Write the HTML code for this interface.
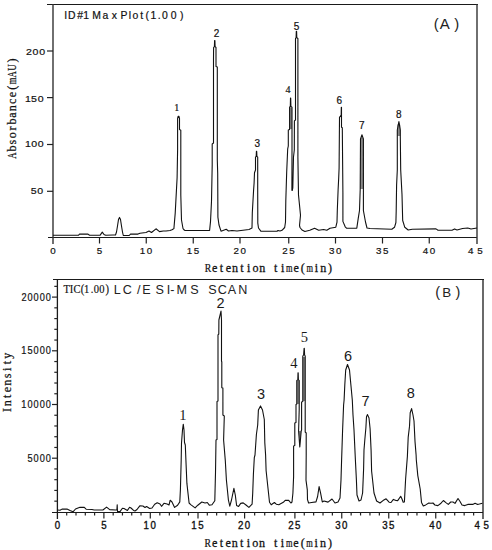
<!DOCTYPE html>
<html><head><meta charset="utf-8"><style>
html,body{margin:0;padding:0;background:#fff;}
body{width:492px;height:550px;overflow:hidden;}
svg{display:block;}
</style></head><body>
<svg width="492" height="550" viewBox="0 0 492 550">
<rect width="492" height="550" fill="#fff"/>
<g stroke="#1a1a1a" stroke-width="1" fill="none" shape-rendering="crispEdges">
<path d="M47 4.5H477.5"/>
<path d="M48 237.5H477"/>
</g>
<g stroke="#333" stroke-width="1.4" fill="none">
<path d="M53 4V244"/>
<path d="M477 4V244"/>
</g>
<g stroke="#222" stroke-width="1.2" fill="none">
<path d="M99.5 237.5V243.5"/>
<path d="M146.25 237.5V243.5"/>
<path d="M193.25 237.5V243.5"/>
<path d="M240 237.5V243.5"/>
<path d="M288.75 237.5V243.5"/>
<path d="M335.5 237.5V243.5"/>
<path d="M382.5 237.5V243.5"/>
<path d="M429.25 237.5V243.5"/>
<path d="M47 51.0H53"/>
<path d="M47 97.6H53"/>
<path d="M47 144.5H53"/>
<path d="M47 191.3H53"/>
</g>
<g stroke="#1a1a1a" stroke-width="1" fill="none" shape-rendering="crispEdges">
<path d="M53 279.5H483.5"/>
<path d="M52 512.5H483"/>
</g>
<g stroke="#1a1a1a" stroke-width="1.3" fill="none">
<path d="M57.4 279V519"/>
<path d="M483 279V519"/>
</g>
<g stroke="#222" stroke-width="1.2" fill="none">
<path d="M66.70 512.5V515.5"/>
<path d="M76.00 512.5V515.5"/>
<path d="M85.30 512.5V515.5"/>
<path d="M94.60 512.5V515.5"/>
<path d="M103.9 512.5V518.5"/>
<path d="M113.18 512.5V515.5"/>
<path d="M122.46 512.5V515.5"/>
<path d="M131.74 512.5V515.5"/>
<path d="M141.02 512.5V515.5"/>
<path d="M150.3 512.5V518.5"/>
<path d="M159.84 512.5V515.5"/>
<path d="M169.38 512.5V515.5"/>
<path d="M178.92 512.5V515.5"/>
<path d="M188.46 512.5V515.5"/>
<path d="M198 512.5V518.5"/>
<path d="M207.32 512.5V515.5"/>
<path d="M216.64 512.5V515.5"/>
<path d="M225.96 512.5V515.5"/>
<path d="M235.28 512.5V515.5"/>
<path d="M244.6 512.5V518.5"/>
<path d="M254.66 512.5V515.5"/>
<path d="M264.72 512.5V515.5"/>
<path d="M274.78 512.5V515.5"/>
<path d="M284.84 512.5V515.5"/>
<path d="M294.9 512.5V518.5"/>
<path d="M304.27 512.5V515.5"/>
<path d="M313.64 512.5V515.5"/>
<path d="M323.01 512.5V515.5"/>
<path d="M332.38 512.5V515.5"/>
<path d="M341.75 512.5V518.5"/>
<path d="M351.15 512.5V515.5"/>
<path d="M360.55 512.5V515.5"/>
<path d="M369.95 512.5V515.5"/>
<path d="M379.35 512.5V515.5"/>
<path d="M388.75 512.5V518.5"/>
<path d="M398.15 512.5V515.5"/>
<path d="M407.55 512.5V515.5"/>
<path d="M416.95 512.5V515.5"/>
<path d="M426.35 512.5V515.5"/>
<path d="M435.75 512.5V518.5"/>
<path d="M445.22 512.5V515.5"/>
<path d="M454.69 512.5V515.5"/>
<path d="M464.16 512.5V515.5"/>
<path d="M473.63 512.5V515.5"/>
<path d="M54.3 501.16H57.5"/>
<path d="M54.3 490.42H57.5"/>
<path d="M54.3 479.68H57.5"/>
<path d="M54.3 468.94H57.5"/>
<path d="M52 458.20H57.5"/>
<path d="M54.3 447.46H57.5"/>
<path d="M54.3 436.72H57.5"/>
<path d="M54.3 425.98H57.5"/>
<path d="M54.3 415.24H57.5"/>
<path d="M52 404.50H57.5"/>
<path d="M54.3 393.76H57.5"/>
<path d="M54.3 383.02H57.5"/>
<path d="M54.3 372.28H57.5"/>
<path d="M54.3 361.54H57.5"/>
<path d="M52 350.80H57.5"/>
<path d="M54.3 340.06H57.5"/>
<path d="M54.3 329.32H57.5"/>
<path d="M54.3 318.58H57.5"/>
<path d="M54.3 307.84H57.5"/>
<path d="M52 297.10H57.5"/>
<path d="M54.3 286.36H57.5"/>
</g>
<g fill="#8a8a8a" stroke="none">
<polygon points="360.5,139 362,136.5 363.4,139 363.4,189 360.2,189"/>
<polygon points="397.3,125 398.9,122.5 400.3,125 400.3,136 397.3,136"/>
<polygon points="289.6,108 290.7,107 292,108 292,129 289.6,129"/>
<polygon points="296.8,381 299.2,381 299.2,404 296.8,404"/>
<polygon points="298.6,431 301.2,431 299.8,447"/>
<polygon points="302.8,357 305.2,357 305.2,401 302.8,401"/>
</g>
<polyline fill="none" stroke="#111" stroke-width="1.1" stroke-linejoin="round" points="53,235.3 78.4,235.3 79.5,234.1 88,234.1 89.5,235.3 100,235.3 102.3,232.2 104,234.5 105.7,235.3 113,235 115.5,235 116.5,232 117.5,226 118.5,219.5 119.5,217.4 120.5,219.5 121.5,226 122.5,232 123.3,235.5 129.2,235.5 130.5,234.1 138,234.1 140,233.2 146,232.5 149,231 151.5,232.5 156,228.8 159.5,231.6 163.3,231 166,231 170,230.5 172,229.8 173.9,228.6 175.2,213.4 177.1,177.7 177.6,150 177.6,118.5 178.2,116.2 178.9,116.2 179.5,118.5 179.5,129.6 180.8,130.2 180.8,165 180.8,194.9 181.5,220 183,228.5 184,229.8 185,230.5 209.6,230.5 210.5,221.6 211.5,201.3 212.2,165 212.2,144 213.5,143 213.5,60 213.6,47.5 214.4,46.6 214.6,40.5 214.9,40.5 215.1,46.6 216,47.5 216,66.4 217.3,67 217.3,160 217.7,173.3 217.9,217.2 219,225 221,231.2 223,230.5 226.2,229.3 228.5,231 232,230.5 237,231 245,230 249,229.5 252,228 252.3,213 253.6,190 254.1,183 254.5,172.7 255.5,170 255.5,157.2 256.2,156.4 256.4,151.4 256.7,151.4 256.9,156.4 257.7,157.2 257.7,190 257.8,223.1 258.5,228 261,231.3 277,231.3 278,230.5 280,231 282,230.3 284.7,227.5 285.5,222 285.8,201 286.7,171.7 287.7,148.8 288.3,146 288.3,130 289.6,129.5 289.6,107.2 290.3,106.4 290.5,98.1 290.7,98.1 290.9,106.4 292,107.2 292,150 291.9,190.2 292.3,190.5 292.8,188 293.5,157 294.3,150 294.4,121 295.5,119.9 295.5,38.5 296.1,37.7 296.3,31.3 296.6,31.3 296.8,37.7 297.9,38.5 297.9,157.7 298.5,195 299.5,205 300.5,215.3 299.5,225.5 300,227.5 302,230 304.9,231.5 309.8,230.3 314.6,228.3 318.7,230.3 323.6,229.5 326.8,230.3 330,228.3 335.8,227.2 337,222.2 337.3,210.5 338.1,190 338.7,178 339.1,168 339.5,117.3 341.2,115 341.3,107.3 341.5,107.3 341.5,127.3 342.3,127.8 342.9,192.7 342.9,221.4 345.2,226.8 346.5,228.2 356.8,228.2 358.2,218.6 359.5,210.5 360.2,189.3 360.5,139 362,134.8 363.4,139 363.4,210.5 365.5,222 367,228 370,228.5 391.8,229.3 394.5,227.3 395.9,222.5 396.2,210.9 396.6,185 397.3,170 397.3,130 398.9,121.5 400.3,130 400.3,136 400.7,170 402,194.5 402.7,220.5 404.8,227.3 408.2,230 412.3,229.3 436,228.9 438,230.2 452,230.2 454.6,228.9 457,230 462.6,228.5 467.8,228 471,229 477,228"/>
<polyline fill="none" stroke="#111" stroke-width="1.1" stroke-linejoin="round" points="57.5,510 60,510.3 62,509.1 67,509.1 70,510.5 73,511.8 75.5,509 78,508 80,507.3 84.3,507.4 86.1,509.2 92,509.5 94.2,510 102.9,510 106.6,507.1 109.7,509.6 115.3,510 116.9,510 117.2,504.8 117.5,511.6 120,511.6 122.4,508.3 124,508.5 127.4,510.4 129.6,507.3 131,508 133.6,510.4 135,511 137,509.5 139.8,505.8 142.9,506 145,507.5 146.6,506.5 149.7,508.5 152,508 154.7,504.2 157.2,502.7 160,504 161.5,506.3 164,503.3 167.1,504 169,505 170.2,500.2 172,502 174.6,507.4 177.6,505.2 179.8,501.9 180.4,489.9 181.2,459.9 181.5,443 182.5,430 183.3,424.2 184,430 184.5,442.5 185.3,445 186.1,464.8 186.9,483.4 189.1,503 190.7,504.6 195.1,507.9 197.8,505.2 201.8,502 205,503 207.3,502.5 209.3,505.2 212,504.8 214.8,500.7 215.5,472.7 216,440 217,439.5 217,401.4 218,401 218,334.8 218.8,334 218.9,320 221,311.1 221.5,320 221.5,361 221.8,362 221.8,387.7 222.9,388 222.9,415 224.3,416 223.6,440 225.3,460.5 226.4,480 228.4,500 229.8,506.1 231.5,500 233.9,488.4 235.3,495 236.6,505.5 238.6,506.4 240.7,503.4 243.2,502.9 246,505 248.9,507.4 252.1,504.2 252.7,493.4 253.4,474.3 254.3,457.7 255,455 256.4,434.5 257.7,425 258.4,410 260.5,405.9 262.5,410 264.3,419.5 264.8,442.7 265.6,455 266.1,470.5 268,488.3 269.5,502.3 271.2,504.8 274.4,502.5 276.3,504.2 278.8,504.8 283.3,502.3 285.2,500.4 288.7,500.3 290.9,503 292,502 292.9,493.2 293.6,476.8 293.6,446 294.8,445.6 294.8,423 296,422.4 296,404.5 296.8,404 296.8,380.5 297.8,380 298,372.8 298.2,372.8 298.4,380 299.2,380.5 299.2,410 298.6,431 299.8,447 301.2,431 301.6,430 301.6,402 302.8,401.6 302.8,356 303.6,355 304.1,348.2 304.3,348.2 304.6,355 305.2,356 305.2,432 306.2,433 306.2,455 306,480.1 307.3,489.9 307.5,499.7 308.6,503 311.6,502.5 316,501.9 317.6,496.5 319.1,486.6 320.6,493.2 322.3,501.9 324,501 328,502.1 332,499 335,503 338,502 340,498 341,480 341.6,460 342.6,430 343.6,405 344.1,400 344.8,385 345.7,370 347.5,364.5 349.5,370 350.9,385 352.3,400 353,415 354,430 355.4,460 356.4,480 357,495 359,501 361,500 362.6,493 363.6,469 364,450 364.8,440 365.9,427.7 366.5,416.8 367.5,414.6 369,418 370.1,428.8 371.1,450.6 371.6,471 374,493 376.6,501 380,503 383,500.6 386.1,498.8 389.1,502.2 391,502.5 393.4,499.4 396,500.5 397.7,500.6 400.7,496.3 402,499 403.2,502.2 404.4,502 405.6,479.3 407.4,456.1 408.2,437.3 409.5,426.4 410.2,412.7 411.6,408.6 413,415 414,421 415,441.4 416.1,455 416.3,459.8 417.8,475.6 420.2,489 421.5,502.4 423.3,505.9 425.7,504.9 428.8,503 431,503.2 433,503 434.9,505 437.9,505.6 441,503.2 443.4,500.5 445.9,502.6 448.3,504.4 450.7,502 453,502 455,503.4 458,498.5 459.9,501.3 462,505 464.8,505.6 467.8,504.4 472.7,504.4 475.1,503.2 477.6,504.4 479.4,504 482.4,503.2"/>
<text x="64.25 67.96 77.21 83.16 91.84 92.37 102.39 111.79 119.88 120.48 128.84 132.60 140.21 145.47 150.56 157.65 162.10 170.70 180.06" y="19.4" font-family="'Liberation Sans', sans-serif" font-size="10.4" fill="#111" stroke="#111" stroke-width="0.2">ID#1 Max Plot(1.00)</text>
<text x="433.71" y="28.7" font-family="'Liberation Sans', sans-serif" font-size="14.8" fill="#222">(</text>
<text x="439.80" y="29.1" font-family="'Liberation Sans', sans-serif" font-size="15.0" fill="#222">A</text>
<text x="454.26" y="28.7" font-family="'Liberation Sans', sans-serif" font-size="14.8" fill="#222">)</text>
<text transform="scale(1.08 1)" x="24.03 30.14 36.34" y="55.2" font-family="'Liberation Sans', sans-serif" font-size="9.8" fill="#111" stroke="#111" stroke-width="0.2">200</text>
<text transform="scale(1.08 1)" x="23.06 28.76 34.96" y="101.7" font-family="'Liberation Sans', sans-serif" font-size="9.8" fill="#111" stroke="#111" stroke-width="0.2">150</text>
<text transform="scale(1.08 1)" x="23.06 29.03 34.96" y="147.3" font-family="'Liberation Sans', sans-serif" font-size="9.8" fill="#111" stroke="#111" stroke-width="0.2">100</text>
<text transform="scale(1.08 1)" x="28.58 34.49" y="194.3" font-family="'Liberation Sans', sans-serif" font-size="9.8" fill="#111" stroke="#111" stroke-width="0.2">50</text>
<text x="50.27" y="254.3" font-family="'Liberation Sans', sans-serif" font-size="9.8" fill="#111" stroke="#111" stroke-width="0.2">0</text>
<text x="96.78" y="254.3" font-family="'Liberation Sans', sans-serif" font-size="9.8" fill="#111" stroke="#111" stroke-width="0.2">5</text>
<text x="139.69 146.72" y="254.3" font-family="'Liberation Sans', sans-serif" font-size="9.8" fill="#111" stroke="#111" stroke-width="0.2">10</text>
<text x="186.69 193.73" y="254.3" font-family="'Liberation Sans', sans-serif" font-size="9.8" fill="#111" stroke="#111" stroke-width="0.2">15</text>
<text x="233.58 240.47" y="254.3" font-family="'Liberation Sans', sans-serif" font-size="9.8" fill="#111" stroke="#111" stroke-width="0.2">20</text>
<text x="282.33 289.23" y="254.3" font-family="'Liberation Sans', sans-serif" font-size="9.8" fill="#111" stroke="#111" stroke-width="0.2">25</text>
<text x="329.10 335.97" y="254.3" font-family="'Liberation Sans', sans-serif" font-size="9.8" fill="#111" stroke="#111" stroke-width="0.2">30</text>
<text x="376.10 382.98" y="254.3" font-family="'Liberation Sans', sans-serif" font-size="9.8" fill="#111" stroke="#111" stroke-width="0.2">35</text>
<text x="422.86 429.72" y="254.3" font-family="'Liberation Sans', sans-serif" font-size="9.8" fill="#111" stroke="#111" stroke-width="0.2">40</text>
<text x="468.11 477.28" y="254.3" font-family="'Liberation Sans', sans-serif" font-size="9.8" fill="#111" stroke="#111" stroke-width="0.2">45</text>
<text transform="scale(0.82 1)" x="77.42 85.06 89.60 98.41 102.60 110.60 114.48 121.19 128.67" y="293.4" font-family="'Liberation Serif', serif" font-size="12.8" fill="#111" stroke="#111" stroke-width="0.2">TIC(1.00)</text>
<text x="113.69 122.67 137.05 142.25 155.40 166.75 170.30 176.45 190.30 202.20 208.30 217.77 227.80 238.35" y="293.7" font-family="'Liberation Sans', sans-serif" font-size="12.6" fill="#222">LC/ESI-MS SCAN</text>
<text x="435.37" y="296.7" font-family="'Liberation Sans', sans-serif" font-size="14.5" fill="#222">(</text>
<text x="442.23" y="296.7" font-family="'Liberation Sans', sans-serif" font-size="13.4" fill="#222">B</text>
<text x="455.60" y="296.7" font-family="'Liberation Sans', sans-serif" font-size="14.5" fill="#222">)</text>
<text transform="scale(0.9 1)" x="23.85 30.59 37.34 44.08 50.83" y="300.59999999999997" font-family="'Liberation Sans', sans-serif" font-size="10.2" fill="#111" stroke="#111" stroke-width="0.2">20000</text>
<text transform="scale(0.9 1)" x="23.71 30.60 37.34 44.08 50.83" y="354.29999999999995" font-family="'Liberation Sans', sans-serif" font-size="10.2" fill="#111" stroke="#111" stroke-width="0.2">15000</text>
<text transform="scale(0.9 1)" x="23.71 30.59 37.34 44.08 50.83" y="408.4" font-family="'Liberation Sans', sans-serif" font-size="10.2" fill="#111" stroke="#111" stroke-width="0.2">10000</text>
<text transform="scale(0.9 1)" x="30.60 37.34 44.08 50.83" y="461.59999999999997" font-family="'Liberation Sans', sans-serif" font-size="10.2" fill="#111" stroke="#111" stroke-width="0.2">5000</text>
<text transform="scale(0.95 1)" x="57.58" y="529.4" font-family="'Liberation Sans', sans-serif" font-size="10.2" fill="#111" stroke="#111" stroke-width="0.35">0</text>
<text transform="scale(0.95 1)" x="106.54" y="529.4" font-family="'Liberation Sans', sans-serif" font-size="10.2" fill="#111" stroke="#111" stroke-width="0.35">5</text>
<text transform="scale(0.95 1)" x="151.13 158.42" y="529.4" font-family="'Liberation Sans', sans-serif" font-size="10.2" fill="#111" stroke="#111" stroke-width="0.35">10</text>
<text transform="scale(0.95 1)" x="201.34 208.64" y="529.4" font-family="'Liberation Sans', sans-serif" font-size="10.2" fill="#111" stroke="#111" stroke-width="0.35">15</text>
<text transform="scale(0.95 1)" x="250.53 257.69" y="529.4" font-family="'Liberation Sans', sans-serif" font-size="10.2" fill="#111" stroke="#111" stroke-width="0.35">20</text>
<text transform="scale(0.95 1)" x="303.48 310.64" y="529.4" font-family="'Liberation Sans', sans-serif" font-size="10.2" fill="#111" stroke="#111" stroke-width="0.35">25</text>
<text transform="scale(0.95 1)" x="352.82 359.95" y="529.4" font-family="'Liberation Sans', sans-serif" font-size="10.2" fill="#111" stroke="#111" stroke-width="0.35">30</text>
<text transform="scale(0.95 1)" x="402.30 409.43" y="529.4" font-family="'Liberation Sans', sans-serif" font-size="10.2" fill="#111" stroke="#111" stroke-width="0.35">35</text>
<text transform="scale(0.95 1)" x="451.78 458.90" y="529.4" font-family="'Liberation Sans', sans-serif" font-size="10.2" fill="#111" stroke="#111" stroke-width="0.35">40</text>
<text transform="scale(0.95 1)" x="499.52 508.96" y="529.4" font-family="'Liberation Sans', sans-serif" font-size="10.2" fill="#111" stroke="#111" stroke-width="0.35">45</text>
<text transform="translate(208.00 271.6) scale(0.845 1)" x="-3.99" font-family="'Liberation Serif', serif" font-size="11.5" fill="#111" stroke="#111" stroke-width="0.25">R</text><text transform="translate(214.78 271.6) scale(1.050 1)" x="-2.58" font-family="'Liberation Serif', serif" font-size="11.5" fill="#111" stroke="#111" stroke-width="0.25">e</text><text transform="translate(221.56 271.6) scale(1.050 1)" x="-1.62" font-family="'Liberation Serif', serif" font-size="11.5" fill="#111" stroke="#111" stroke-width="0.25">t</text><text transform="translate(228.34 271.6) scale(1.050 1)" x="-2.58" font-family="'Liberation Serif', serif" font-size="11.5" fill="#111" stroke="#111" stroke-width="0.25">e</text><text transform="translate(235.12 271.6) scale(1.050 1)" x="-2.92" font-family="'Liberation Serif', serif" font-size="11.5" fill="#111" stroke="#111" stroke-width="0.25">n</text><text transform="translate(241.90 271.6) scale(1.050 1)" x="-1.62" font-family="'Liberation Serif', serif" font-size="11.5" fill="#111" stroke="#111" stroke-width="0.25">t</text><text transform="translate(248.68 271.6) scale(1.050 1)" x="-1.61" font-family="'Liberation Serif', serif" font-size="11.5" fill="#111" stroke="#111" stroke-width="0.25">i</text><text transform="translate(255.46 271.6) scale(1.050 1)" x="-2.88" font-family="'Liberation Serif', serif" font-size="11.5" fill="#111" stroke="#111" stroke-width="0.25">o</text><text transform="translate(262.24 271.6) scale(1.050 1)" x="-2.92" font-family="'Liberation Serif', serif" font-size="11.5" fill="#111" stroke="#111" stroke-width="0.25">n</text><text transform="translate(275.80 271.6) scale(1.050 1)" x="-1.62" font-family="'Liberation Serif', serif" font-size="11.5" fill="#111" stroke="#111" stroke-width="0.25">t</text><text transform="translate(282.58 271.6) scale(1.050 1)" x="-1.61" font-family="'Liberation Serif', serif" font-size="11.5" fill="#111" stroke="#111" stroke-width="0.25">i</text><text transform="translate(289.36 271.6) scale(0.727 1)" x="-4.51" font-family="'Liberation Serif', serif" font-size="11.5" fill="#111" stroke="#111" stroke-width="0.25">m</text><text transform="translate(296.14 271.6) scale(1.050 1)" x="-2.58" font-family="'Liberation Serif', serif" font-size="11.5" fill="#111" stroke="#111" stroke-width="0.25">e</text><text transform="translate(302.92 271.6) scale(1.050 1)" x="-1.98" font-family="'Liberation Serif', serif" font-size="11.5" fill="#111" stroke="#111" stroke-width="0.25">(</text><text transform="translate(309.70 271.6) scale(0.727 1)" x="-4.51" font-family="'Liberation Serif', serif" font-size="11.5" fill="#111" stroke="#111" stroke-width="0.25">m</text><text transform="translate(316.48 271.6) scale(1.050 1)" x="-1.61" font-family="'Liberation Serif', serif" font-size="11.5" fill="#111" stroke="#111" stroke-width="0.25">i</text><text transform="translate(323.26 271.6) scale(1.050 1)" x="-2.92" font-family="'Liberation Serif', serif" font-size="11.5" fill="#111" stroke="#111" stroke-width="0.25">n</text><text transform="translate(330.04 271.6) scale(1.050 1)" x="-1.85" font-family="'Liberation Serif', serif" font-size="11.5" fill="#111" stroke="#111" stroke-width="0.25">)</text>
<text transform="translate(207.80 546.9) scale(0.845 1)" x="-3.99" font-family="'Liberation Serif', serif" font-size="11.5" fill="#111" stroke="#111" stroke-width="0.25">R</text><text transform="translate(214.58 546.9) scale(1.050 1)" x="-2.58" font-family="'Liberation Serif', serif" font-size="11.5" fill="#111" stroke="#111" stroke-width="0.25">e</text><text transform="translate(221.36 546.9) scale(1.050 1)" x="-1.62" font-family="'Liberation Serif', serif" font-size="11.5" fill="#111" stroke="#111" stroke-width="0.25">t</text><text transform="translate(228.14 546.9) scale(1.050 1)" x="-2.58" font-family="'Liberation Serif', serif" font-size="11.5" fill="#111" stroke="#111" stroke-width="0.25">e</text><text transform="translate(234.92 546.9) scale(1.050 1)" x="-2.92" font-family="'Liberation Serif', serif" font-size="11.5" fill="#111" stroke="#111" stroke-width="0.25">n</text><text transform="translate(241.70 546.9) scale(1.050 1)" x="-1.62" font-family="'Liberation Serif', serif" font-size="11.5" fill="#111" stroke="#111" stroke-width="0.25">t</text><text transform="translate(248.48 546.9) scale(1.050 1)" x="-1.61" font-family="'Liberation Serif', serif" font-size="11.5" fill="#111" stroke="#111" stroke-width="0.25">i</text><text transform="translate(255.26 546.9) scale(1.050 1)" x="-2.88" font-family="'Liberation Serif', serif" font-size="11.5" fill="#111" stroke="#111" stroke-width="0.25">o</text><text transform="translate(262.04 546.9) scale(1.050 1)" x="-2.92" font-family="'Liberation Serif', serif" font-size="11.5" fill="#111" stroke="#111" stroke-width="0.25">n</text><text transform="translate(275.60 546.9) scale(1.050 1)" x="-1.62" font-family="'Liberation Serif', serif" font-size="11.5" fill="#111" stroke="#111" stroke-width="0.25">t</text><text transform="translate(282.38 546.9) scale(1.050 1)" x="-1.61" font-family="'Liberation Serif', serif" font-size="11.5" fill="#111" stroke="#111" stroke-width="0.25">i</text><text transform="translate(289.16 546.9) scale(0.727 1)" x="-4.51" font-family="'Liberation Serif', serif" font-size="11.5" fill="#111" stroke="#111" stroke-width="0.25">m</text><text transform="translate(295.94 546.9) scale(1.050 1)" x="-2.58" font-family="'Liberation Serif', serif" font-size="11.5" fill="#111" stroke="#111" stroke-width="0.25">e</text><text transform="translate(302.72 546.9) scale(1.050 1)" x="-1.98" font-family="'Liberation Serif', serif" font-size="11.5" fill="#111" stroke="#111" stroke-width="0.25">(</text><text transform="translate(309.50 546.9) scale(0.727 1)" x="-4.51" font-family="'Liberation Serif', serif" font-size="11.5" fill="#111" stroke="#111" stroke-width="0.25">m</text><text transform="translate(316.28 546.9) scale(1.050 1)" x="-1.61" font-family="'Liberation Serif', serif" font-size="11.5" fill="#111" stroke="#111" stroke-width="0.25">i</text><text transform="translate(323.06 546.9) scale(1.050 1)" x="-2.92" font-family="'Liberation Serif', serif" font-size="11.5" fill="#111" stroke="#111" stroke-width="0.25">n</text><text transform="translate(329.84 546.9) scale(1.050 1)" x="-1.85" font-family="'Liberation Serif', serif" font-size="11.5" fill="#111" stroke="#111" stroke-width="0.25">)</text>
<g transform="translate(16.2 158.3) rotate(-90)"><text transform="translate(2.70 0) scale(0.764 1)" x="-4.16" font-family="'Liberation Serif', serif" font-size="11.5" fill="#111" stroke="#111" stroke-width="0.25">A</text><text transform="translate(9.48 0) scale(1.050 1)" x="-2.66" font-family="'Liberation Serif', serif" font-size="11.5" fill="#111" stroke="#111" stroke-width="0.25">b</text><text transform="translate(16.26 0) scale(1.050 1)" x="-2.27" font-family="'Liberation Serif', serif" font-size="11.5" fill="#111" stroke="#111" stroke-width="0.25">s</text><text transform="translate(23.04 0) scale(1.050 1)" x="-2.88" font-family="'Liberation Serif', serif" font-size="11.5" fill="#111" stroke="#111" stroke-width="0.25">o</text><text transform="translate(29.82 0) scale(1.050 1)" x="-1.98" font-family="'Liberation Serif', serif" font-size="11.5" fill="#111" stroke="#111" stroke-width="0.25">r</text><text transform="translate(36.60 0) scale(1.050 1)" x="-2.66" font-family="'Liberation Serif', serif" font-size="11.5" fill="#111" stroke="#111" stroke-width="0.25">b</text><text transform="translate(43.38 0) scale(1.050 1)" x="-2.68" font-family="'Liberation Serif', serif" font-size="11.5" fill="#111" stroke="#111" stroke-width="0.25">a</text><text transform="translate(50.16 0) scale(1.050 1)" x="-2.92" font-family="'Liberation Serif', serif" font-size="11.5" fill="#111" stroke="#111" stroke-width="0.25">n</text><text transform="translate(56.94 0) scale(1.050 1)" x="-2.60" font-family="'Liberation Serif', serif" font-size="11.5" fill="#111" stroke="#111" stroke-width="0.25">c</text><text transform="translate(63.72 0) scale(1.050 1)" x="-2.58" font-family="'Liberation Serif', serif" font-size="11.5" fill="#111" stroke="#111" stroke-width="0.25">e</text><text transform="translate(70.50 0) scale(1.050 1)" x="-1.98" font-family="'Liberation Serif', serif" font-size="11.5" fill="#111" stroke="#111" stroke-width="0.25">(</text><text transform="translate(77.28 0) scale(0.727 1)" x="-4.51" font-family="'Liberation Serif', serif" font-size="11.5" fill="#111" stroke="#111" stroke-width="0.25">m</text><text transform="translate(84.06 0) scale(0.764 1)" x="-4.16" font-family="'Liberation Serif', serif" font-size="11.5" fill="#111" stroke="#111" stroke-width="0.25">A</text><text transform="translate(90.84 0) scale(0.792 1)" x="-4.16" font-family="'Liberation Serif', serif" font-size="11.5" fill="#111" stroke="#111" stroke-width="0.25">U</text><text transform="translate(97.62 0) scale(1.050 1)" x="-1.85" font-family="'Liberation Serif', serif" font-size="11.5" fill="#111" stroke="#111" stroke-width="0.25">)</text></g>
<g transform="translate(11.0 413.3) rotate(-90)"><text transform="translate(3.40 0) scale(1.050 1)" x="-1.92" font-family="'Liberation Serif', serif" font-size="11.5" fill="#111" stroke="#111" stroke-width="0.25">I</text><text transform="translate(10.18 0) scale(1.050 1)" x="-2.92" font-family="'Liberation Serif', serif" font-size="11.5" fill="#111" stroke="#111" stroke-width="0.25">n</text><text transform="translate(16.96 0) scale(1.050 1)" x="-1.62" font-family="'Liberation Serif', serif" font-size="11.5" fill="#111" stroke="#111" stroke-width="0.25">t</text><text transform="translate(23.74 0) scale(1.050 1)" x="-2.58" font-family="'Liberation Serif', serif" font-size="11.5" fill="#111" stroke="#111" stroke-width="0.25">e</text><text transform="translate(30.52 0) scale(1.050 1)" x="-2.92" font-family="'Liberation Serif', serif" font-size="11.5" fill="#111" stroke="#111" stroke-width="0.25">n</text><text transform="translate(37.30 0) scale(1.050 1)" x="-2.27" font-family="'Liberation Serif', serif" font-size="11.5" fill="#111" stroke="#111" stroke-width="0.25">s</text><text transform="translate(44.08 0) scale(1.050 1)" x="-1.61" font-family="'Liberation Serif', serif" font-size="11.5" fill="#111" stroke="#111" stroke-width="0.25">i</text><text transform="translate(50.86 0) scale(1.050 1)" x="-1.62" font-family="'Liberation Serif', serif" font-size="11.5" fill="#111" stroke="#111" stroke-width="0.25">t</text><text transform="translate(57.64 0) scale(1.050 1)" x="-2.93" font-family="'Liberation Serif', serif" font-size="11.5" fill="#111" stroke="#111" stroke-width="0.25">y</text></g>
<text x="174.17" y="111.4" font-family="'Liberation Serif', serif" font-size="10" fill="#111" stroke="#111" stroke-width="0.2">1</text>
<text x="213.72" y="37.2" font-family="'Liberation Sans', sans-serif" font-size="10" fill="#111" stroke="#111" stroke-width="0.2">2</text>
<text x="254.55" y="147.3" font-family="'Liberation Sans', sans-serif" font-size="10" fill="#111" stroke="#111" stroke-width="0.2">3</text>
<text x="285.48" y="93.2" font-family="'Liberation Serif', serif" font-size="10" fill="#111" stroke="#111" stroke-width="0.2">4</text>
<text x="293.83" y="29.5" font-family="'Liberation Sans', sans-serif" font-size="10" fill="#111" stroke="#111" stroke-width="0.2">5</text>
<text x="336.58" y="103.9" font-family="'Liberation Sans', sans-serif" font-size="10" fill="#111" stroke="#111" stroke-width="0.2">6</text>
<text x="358.91" y="128.9" font-family="'Liberation Sans', sans-serif" font-size="10" fill="#111" stroke="#111" stroke-width="0.2">7</text>
<text x="396.12" y="117.5" font-family="'Liberation Sans', sans-serif" font-size="10" fill="#111" stroke="#111" stroke-width="0.2">8</text>
<text x="179.18" y="419.8" font-family="'Liberation Serif', serif" font-size="14.5" fill="#1a1a1a">1</text>
<text x="216.57" y="307.6" font-family="'Liberation Sans', sans-serif" font-size="14.5" fill="#1a1a1a">2</text>
<text x="257.11" y="399.40000000000003" font-family="'Liberation Sans', sans-serif" font-size="14.5" fill="#1a1a1a">3</text>
<text x="290.35" y="368.0" font-family="'Liberation Serif', serif" font-size="14.5" fill="#1a1a1a">4</text>
<text x="300.74" y="342.3" font-family="'Liberation Serif', serif" font-size="14.5" fill="#1a1a1a">5</text>
<text x="344.12" y="360.70000000000005" font-family="'Liberation Sans', sans-serif" font-size="14.5" fill="#1a1a1a">6</text>
<text x="361.46" y="406.1" font-family="'Liberation Sans', sans-serif" font-size="14.5" fill="#1a1a1a">7</text>
<text x="406.67" y="398.0" font-family="'Liberation Sans', sans-serif" font-size="14.5" fill="#1a1a1a">8</text>
</svg>
</body></html>
